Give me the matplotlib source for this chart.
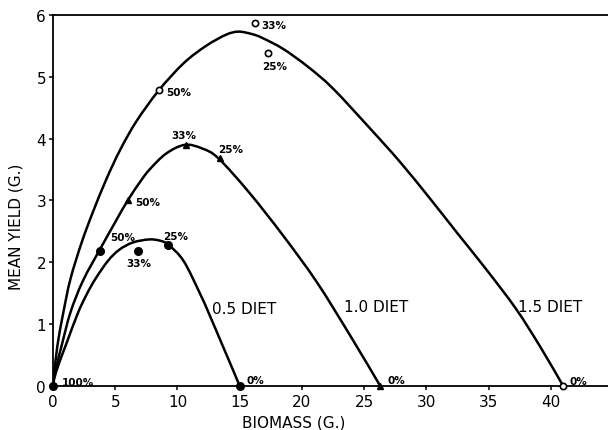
import matplotlib
matplotlib.use("Agg")
import matplotlib.pyplot as plt
from matplotlib.path import Path
from matplotlib.patches import PathPatch

# ---- data ----
# fitted curves (biomass g, mean yield g)
c05_x = [0, 0.1, 0.45, 1.1, 2.0, 2.7, 3.4, 4.4, 5.3, 6.4, 7.7, 8.6, 9.3, 10.5, 11.8, 12.6, 13.7, 14.4, 15.0]
c05_y = [0, 0.12, 0.35, 0.70, 1.18, 1.48, 1.73, 2.02, 2.20, 2.32, 2.37, 2.35, 2.28, 2.02, 1.50, 1.14, 0.62, 0.29, 0]

c10_x = [0, 0.05, 0.25, 0.7, 1.4, 2.4, 3.8, 5.0, 6.0, 7.1, 7.8, 9.1, 10.6, 12.0, 13.3, 15.8, 18.5, 21.2, 23.9, 26.3]
c10_y = [0, 0.12, 0.30, 0.66, 1.19, 1.70, 2.22, 2.65, 3.00, 3.33, 3.51, 3.76, 3.90, 3.84, 3.68, 3.12, 2.43, 1.68, 0.81, 0]

c15_x = [0, 0.1, 0.35, 0.83, 1.4, 2.3, 3.2, 4.3, 5.4, 6.7, 8.5, 10.5, 12.3, 13.9, 14.9, 16.0,
         16.8, 18.5, 20.5, 22.5, 25.5, 27.9, 30.3, 32.5, 34.8, 37.2, 39.2, 41.0]
c15_y = [0, 0.2, 0.65, 1.19, 1.73, 2.32, 2.81, 3.35, 3.82, 4.28, 4.78, 5.22, 5.50, 5.68, 5.73, 5.69,
         5.63, 5.45, 5.16, 4.81, 4.16, 3.62, 3.03, 2.47, 1.89, 1.25, 0.62, 0]

# observed points
p05_x = [0, 3.8, 6.85, 9.26, 15.0]
p05_y = [0, 2.19, 2.18, 2.28, 0]
p05_lab = ["100%", "50%", "33%", "25%", "0%"]

p10_x = [6.0, 10.7, 13.4, 26.3]
p10_y = [3.01, 3.90, 3.68, 0]
p10_lab = ["50%", "33%", "25%", "0%"]

p15_x = [8.5, 16.2, 17.3, 41.0]
p15_y = [4.78, 5.87, 5.38, 0]
p15_lab = ["50%", "33%", "25%", "0%"]

curve_names = ["0.5 DIET", "1.0 DIET", "1.5 DIET"]
x_ticks = [0, 5, 10, 15, 20, 25, 30, 35, 40]
y_ticks = [0, 1, 2, 3, 4, 5, 6]


def smooth_path(xs, ys):
    """Catmull-Rom curve through the read points, drawn as cubic Bezier segments."""
    pts = list(zip(xs, ys))
    verts = [pts[0]]
    codes = [Path.MOVETO]
    n = len(pts)
    for i in range(n - 1):
        p0 = pts[i - 1] if i > 0 else pts[i]
        p1 = pts[i]
        p2 = pts[i + 1]
        p3 = pts[i + 2] if i + 2 < n else pts[i + 1]
        c1 = (p1[0] + (p2[0] - p0[0]) / 6.0, p1[1] + (p2[1] - p0[1]) / 6.0)
        c2 = (p2[0] - (p3[0] - p1[0]) / 6.0, p2[1] - (p3[1] - p1[1]) / 6.0)
        verts += [c1, c2, p2]
        codes += [Path.CURVE4] * 3
    return Path(verts, codes)


# ---- figure ----
fig = plt.figure(figsize=(6.08, 4.31), dpi=100)
ax = fig.add_axes([0.0872, 0.102, 0.9128, 0.861])
ax.set_xlim(0, 44.6)
ax.set_ylim(0, 6)

lw = 1.8
for cx, cy in [(c05_x, c05_y), (c10_x, c10_y), (c15_x, c15_y)]:
    ax.add_patch(PathPatch(smooth_path(cx, cy), fill=False, edgecolor="black",
                           lw=lw, capstyle="round", joinstyle="round", zorder=2))

ax.plot(p05_x, p05_y, "o", ms=5.5, color="black", zorder=3, clip_on=False)
ax.plot(p10_x, p10_y, "^", ms=5, color="black", zorder=3, clip_on=False)
ax.plot(p15_x, p15_y, "o", ms=4.5, mfc="white", mec="black", mew=1.2, zorder=3, clip_on=False)

pct_kw = dict(textcoords="offset pixels", fontsize=7.5, fontweight="bold", va="center")
off05 = [((9, 4), "left"), ((10, 14), "left"), ((1, -12), "center"), ((-5, 9), "left"), ((7, 6), "left")]
off10 = [((8, -2), "left"), ((-2, 10), "center"), ((-2, 9), "left"), ((7, 6), "left")]
off15 = [((7, -2), "left"), ((7, -2), "left"), ((6, -13), "center"), ((6, 5), "left")]
for xs, ys, labs, offs in [(p05_x, p05_y, p05_lab, off05),
                           (p10_x, p10_y, p10_lab, off10),
                           (p15_x, p15_y, p15_lab, off15)]:
    for x, y, t, (o, ha) in zip(xs, ys, labs, offs):
        ax.annotate(t, (x, y), xytext=o, ha=ha, **pct_kw)

name_pos = [(12.8, 1.26), (23.4, 1.28), (37.4, 1.28)]
for name, (x, y) in zip(curve_names, name_pos):
    ax.text(x, y, name, fontsize=11, ha="left", va="center")

# axes styling
ax.spines["right"].set_visible(False)
for s in ["left", "bottom", "top"]:
    ax.spines[s].set_linewidth(1.3)
ax.set_xticks(x_ticks)
ax.set_yticks(y_ticks)
ax.tick_params(axis="both", direction="out", length=3, width=1.1, labelsize=11)
ax.tick_params(axis="y", pad=2)
ax.tick_params(axis="x", pad=3)

ax.text(0.434, -0.097, "BIOMASS (G.)", transform=ax.transAxes, fontsize=11,
        ha="center", va="center")
ax.text(-0.066, 0.431, "MEAN YIELD (G.)", transform=ax.transAxes, fontsize=11,
        ha="center", va="center", rotation=90)

fig.savefig("out.png", dpi=100)
